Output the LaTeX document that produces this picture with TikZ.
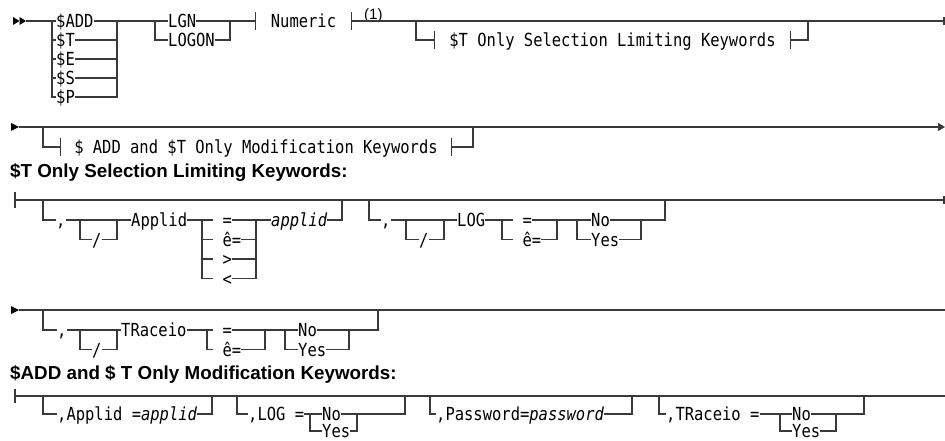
\documentclass[tikz,border=0pt]{standalone}
\usepackage{fontspec}
\setmainfont{Liberation Sans}
\newfontfamily\railfont[FakeStretch=0.86, ItalicFont={DejaVu Sans Mono Oblique}, ItalicFeatures={FakeStretch=0.86}]{DejaVu Sans Mono}
\usepackage{xcolor}
\usetikzlibrary{arrows.meta,positioning}
\definecolor{railgray}{HTML}{3A3A3A}

\begin{document}
\begin{tikzpicture}[x=1pt, y=-1pt,
  kw/.style={font=\railfont\fontsize{18}{20}\selectfont, inner sep=0pt, text height=13.1pt, text depth=0pt, anchor=west},
  frag/.style={kw, anchor=center, minimum height=17pt},
  head/.style={font=\bfseries\fontsize{18.8}{22}\selectfont, inner sep=0pt, anchor=base west},
  note/.style={font=\fontsize{15}{17}\selectfont, inner sep=0pt, anchor=base west},
  rail/.style={draw=railgray, line width=1.1pt}]
  \useasboundingbox (0,0) rectangle (945,441);

  \fill (13,17) -- (19.5,21) -- (13,25) -- cycle;
  \fill (19.5,17) -- (26,21) -- (19.5,25) -- cycle;
  \node[kw] (add) at (56,21) {\$ADD};
  \node[kw] (dt) at (56,40) {\$T};
  \node[kw] (de) at (56,59) {\$E};
  \node[kw] (ds) at (56,78) {\$S};
  \node[kw] (dp) at (56,97) {\$P};
  \node[kw] (lgn) at (168,21) {LGN};
  \node[kw] (logon) at (168,40) {LOGON};
  \node[frag, minimum width=95pt] (numeric) at (303.5,21) {Numeric};
  \node[note] (fn) at (364,20) {(1)};
  \node[frag, minimum width=355pt, minimum height=18pt] (tsel) at (612.5,40) {\$T Only Selection Limiting Keywords};
  \draw[rail] (26,21) -- (add.west);
  \foreach \n in {dt,de,ds,dp} \draw[rail] (52,21) |- (\n.west);
  \foreach \n in {dt,de,ds,dp} \draw[rail] (\n.east) -| (117,21);
  \draw[rail] (add.east) -- (lgn.west);
  \draw[rail] (155,21) |- (logon.west);
  \draw[rail] (logon.east) -| (230,21);
  \draw[rail] (lgn.east) -- (numeric.west);
  \draw[rail] (numeric.north west) -- (numeric.south west);
  \draw[rail] (numeric.north east) -- (numeric.south east);
  \draw[rail] (numeric.east) -- (944,21);
  \draw[rail] (944,17) -- (944,25);
  \draw[rail] (416,21) |- (tsel.west);
  \draw[rail] (tsel.north west) -- (tsel.south west);
  \draw[rail] (tsel.north east) -- (tsel.south east);
  \draw[rail] (tsel.east) -| (808,21);

  \fill (11,123) -- (19,127) -- (11,131) -- cycle;
  \draw[rail, -{Triangle[length=7pt,width=8pt]}] (19,127) -- (945,127);
  \node[frag, minimum width=390pt] (tmod) at (256,147) {\$ ADD and \$T Only Modification Keywords};
  \draw[rail] (43,127) |- (tmod.west);
  \draw[rail] (tmod.north west) -- (tmod.south west);
  \draw[rail] (tmod.north east) -- (tmod.south east);
  \draw[rail] (tmod.east) -| (473,127);

  \node[head] (hsel) at (10,178) {\$T Only Selection Limiting Keywords:};

  \draw[rail] (15,192) -- (15,208);
  \draw[rail] (15,200) -- (944,200);
  \draw[rail] (944,196) -- (944,204);
  \node[kw] (c1) at (56,220) {,};
  \node[kw] (s1) at (92,239.5) {/};
  \node[kw] (ap) at (131,220) {Applid};
  \node[kw] (eq1) at (213,220) {\ =};
  \node[kw] (ne1) at (213,239.5) {\ ê=};
  \node[kw] (gt1) at (213,259) {\ >};
  \node[kw] (lt1) at (213,278.5) {\ <};
  \node[kw] (apv) at (271,220) {\textit{applid}};
  \draw[rail] (43,200) |- (c1.west);
  \draw[rail] (c1.east) -- (ap.west);
  \draw[rail] (80,220) |- (s1.west);
  \draw[rail] (s1.east) -| (117,220);
  \draw[rail] (ap.east) -- (eq1.west);
  \foreach \n in {ne1,gt1,lt1} \draw[rail] (202,220) |- (\n.west);
  \foreach \n in {eq1,ne1,gt1,lt1} \draw[rail] (\n.east) -| (256,220);
  \draw[rail] (256,220) -- (apv.west);
  \draw[rail] (apv.east) -| (342,200);
  \node[kw] (c2) at (381,220) {,};
  \node[kw] (s2) at (419,239.5) {/};
  \node[kw] (lg) at (457,220) {LOG};
  \node[kw] (eq2) at (513,220) {\ =};
  \node[kw] (ne2) at (513,239.5) {\ ê=};
  \node[kw] (no2) at (591,220) {No};
  \node[kw] (yes2) at (591,239.5) {Yes};
  \draw[rail] (369,200) |- (c2.west);
  \draw[rail] (c2.east) -- (lg.west);
  \draw[rail] (406,220) |- (s2.west);
  \draw[rail] (s2.east) -| (444,220);
  \draw[rail] (lg.east) -- (eq2.west);
  \draw[rail] (502,220) |- (ne2.west);
  \draw[rail] (ne2.east) -| (557,220);
  \draw[rail] (eq2.east) -- (no2.west);
  \draw[rail] (577,220) |- (yes2.west);
  \draw[rail] (yes2.east) -| (641,220);
  \draw[rail] (no2.east) -| (665,200);

  \fill (11,306) -- (19,310) -- (11,314) -- cycle;
  \draw[rail] (19,310) -- (945,310);
  \node[kw] (c3) at (57,330) {,};
  \node[kw] (s3) at (92,349.5) {/};
  \node[kw] (tr) at (121,330) {TRaceio};
  \node[kw] (eq3) at (213,330) {\ =};
  \node[kw] (ne3) at (213,349.5) {\ ê=};
  \node[kw] (no3) at (298,330) {No};
  \node[kw] (yes3) at (298,349.5) {Yes};
  \draw[rail] (43,310) |- (c3.west);
  \draw[rail] (c3.east) -- (tr.west);
  \draw[rail] (80,330) |- (s3.west);
  \draw[rail] (s3.east) -| (117,330);
  \draw[rail] (tr.east) -- (eq3.west);
  \draw[rail] (207,330) |- (ne3.west);
  \draw[rail] (ne3.east) -| (265,330);
  \draw[rail] (eq3.east) -- (no3.west);
  \draw[rail] (285,330) |- (yes3.west);
  \draw[rail] (yes3.east) -| (349,330);
  \draw[rail] (no3.east) -| (378,310);

  \node[head] (hmod) at (10,379) {\$ADD and \$ T Only Modification Keywords:};

  \draw[rail] (15,389) -- (15,403);
  \draw[rail] (15,396) -- (945,396);
  \node[kw] (apx) at (57,414) {,Applid =\textit{applid}};
  \draw[rail] (43,396) |- (apx.west);
  \draw[rail] (apx.east) -| (212,396);
  \node[kw] (lgx) at (248,414) {,LOG =};
  \node[kw] (no4) at (322,414) {No};
  \node[kw] (yes4) at (322,431) {Yes};
  \draw[rail] (237,396) |- (lgx.west);
  \draw[rail] (lgx.east) -- (no4.west);
  \draw[rail] (310,414) |- (yes4.west);
  \draw[rail] (yes4.east) -| (357,414);
  \draw[rail] (no4.east) -| (405,396);
  \node[kw] (pw) at (436,414) {,Password=\textit{password}};
  \draw[rail] (430,396) |- (pw.west);
  \draw[rail] (pw.east) -| (632,396);
  \node[kw] (trx) at (666,414) {,TRaceio =};
  \node[kw] (no5) at (792,414) {No};
  \node[kw] (yes5) at (792,431) {Yes};
  \draw[rail] (659,396) |- (trx.west);
  \draw[rail] (trx.east) -- (no5.west);
  \draw[rail] (780,414) |- (yes5.west);
  \draw[rail] (yes5.east) -| (836,414);
  \draw[rail] (no5.east) -| (864,396);
\end{tikzpicture}
\end{document}
